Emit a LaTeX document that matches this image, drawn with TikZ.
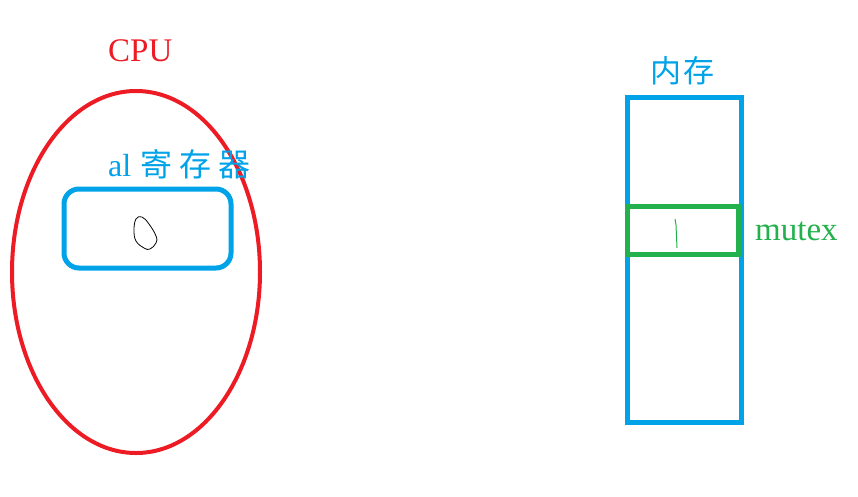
\documentclass[tikz,border=0pt]{standalone}
\usepackage{fontspec}
\setmainfont{Liberation Serif}
\newfontfamily\cjk{Noto Sans CJK SC}
\usetikzlibrary{shapes.geometric}
\definecolor{cpured}{RGB}{237,28,36}
\definecolor{regblue}{RGB}{0,162,232}
\definecolor{mgreen}{RGB}{34,177,76}
\tikzset{
  lbl/.style={inner sep=0pt, anchor=base west, font=\fontsize{32}{38}\selectfont},
  box/.style={draw, line width=5pt, inner sep=0pt}
}
\begin{document}
\begin{tikzpicture}[x=1pt,y=-1pt]
\useasboundingbox (0,0) rectangle (858,496);
% CPU
\node[box, draw=cpured, line width=4pt, ellipse, minimum width=248pt, minimum height=362pt] (cpu) at (136,272) {};
\node[lbl, text=cpured, font=\fontsize{33}{38}\selectfont] (cpulbl) at (108,61) {CPU};
% register
\node[box, draw=regblue, rounded corners=15pt, minimum width=167pt, minimum height=79pt] (reg) at (147.5,228.5) {};
\node[lbl, text=regblue] (reglbl) at (108,176) {al\hspace{9pt}{\cjk 寄\hspace{7pt}存\hspace{7pt}器}};
\draw[black, line width=0.8pt] plot[smooth cycle, tension=0.7] coordinates {(136,219) (142,217) (149,224) (156,236) (156,243) (150,249) (144,248) (136,241) (134,230)};
% memory
\node[box, draw=regblue, minimum width=114pt, minimum height=325pt] (mem) at (684,259.5) {};
\node[lbl, text=regblue, font=\fontsize{31}{38}\selectfont] (memlbl) at (650,82) {\cjk 内\hspace{2pt}存};
\node[box, draw=mgreen, minimum width=111pt, minimum height=48pt] (mutex) at (682.5,230) {};
\draw[mgreen, line width=1pt] (675,219) -- (676,225) -- (677,248);
\node[lbl, text=mgreen, font=\fontsize{33}{38}\selectfont] (mutexlbl) at (755,240) {mutex};
\end{tikzpicture}
\end{document}
